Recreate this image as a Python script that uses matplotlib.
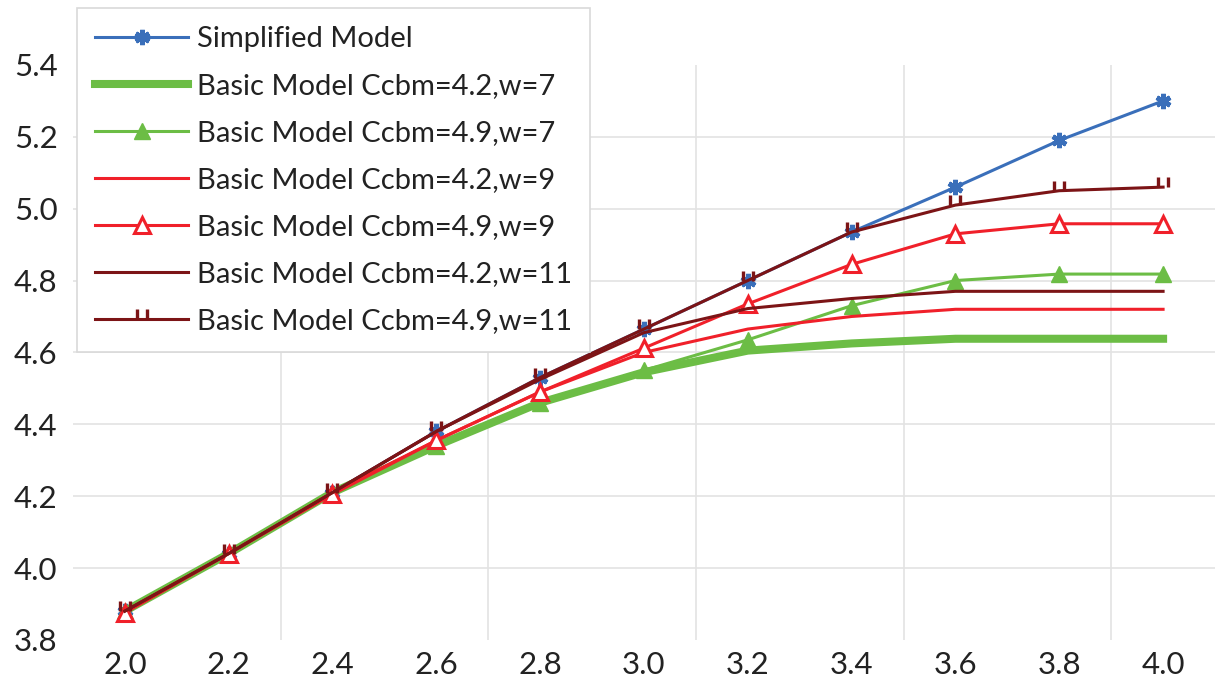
import matplotlib
matplotlib.use('Agg')
import matplotlib.pyplot as plt
from matplotlib.path import Path

plt.rcParams['font.family'] = ['Lato', 'DejaVu Sans']

x = [2.0, 2.2, 2.4, 2.6, 2.8, 3.0, 3.2, 3.4, 3.6, 3.8, 4.0]

simplified = [3.88, 4.04, 4.21, 4.38, 4.53, 4.665, 4.80, 4.935, 5.06, 5.19, 5.30]
c42_w7 = [3.88, 4.04, 4.21, 4.34, 4.46, 4.545, 4.605, 4.625, 4.638, 4.638, 4.638]
c49_w7 = [3.88, 4.04, 4.21, 4.34, 4.46, 4.55, 4.635, 4.73, 4.80, 4.818, 4.818]
c42_w9 = [3.88, 4.04, 4.21, 4.355, 4.49, 4.60, 4.665, 4.70, 4.72, 4.72, 4.72]
c49_w9 = [3.875, 4.04, 4.205, 4.355, 4.49, 4.612, 4.735, 4.845, 4.93, 4.958, 4.958]
c42_w11 = [3.88, 4.04, 4.21, 4.38, 4.525, 4.655, 4.722, 4.75, 4.77, 4.77, 4.77]
c49_w11 = [3.88, 4.04, 4.21, 4.38, 4.53, 4.665, 4.80, 4.935, 5.01, 5.05, 5.06]

labels = ['Simplified Model',
          'Basic Model Ccbm=4.2,w=7',
          'Basic Model Ccbm=4.9,w=7',
          'Basic Model Ccbm=4.2,w=9',
          'Basic Model Ccbm=4.9,w=9',
          'Basic Model Ccbm=4.2,w=11',
          'Basic Model Ccbm=4.9,w=11']

xticks = [2.0, 2.2, 2.4, 2.6, 2.8, 3.0, 3.2, 3.4, 3.6, 3.8, 4.0]
yticks = [3.8, 4.0, 4.2, 4.4, 4.6, 4.8, 5.0, 5.2, 5.4]
xgrid = [2.3, 2.7, 3.1, 3.5, 3.9]
ygrid = [4.0, 4.2, 4.4, 4.6, 4.8, 5.0, 5.2]

blue = '#3a6fba'
green = '#6cbd45'
red = '#f0202a'
darkred = '#7c1416'

# two short upward ticks, like the Excel marker
ticks_marker = Path([(-0.5, 0), (-0.5, 1), (0.5, 0), (0.5, 1), (-0.5, -1)],
                    [Path.MOVETO, Path.LINETO, Path.MOVETO, Path.LINETO, Path.MOVETO])

fig = plt.figure(figsize=(12.15, 6.91), dpi=100)
ax = fig.add_axes([0.060, 0.074, 0.94, 0.832])

for gx in xgrid:
    ax.axvline(gx, color='#e3e3e3', lw=1.2, zorder=0)
for gy in ygrid:
    ax.axhline(gy, color='#e3e3e3', lw=1.2, zorder=0)

ax.plot(x, simplified, color=blue, lw=2.2, marker=(6, 2, 0), ms=11, mew=3.4,
        label=labels[0])
ax.plot(x, c42_w7, color=green, lw=5.8, label=labels[1])
ax.plot(x, c49_w7, color=green, lw=2.2, marker='^', ms=12, label=labels[2])
ax.plot(x, c42_w9, color=red, lw=2.2, label=labels[3])
ax.plot(x, c49_w9, color=red, lw=2.2, marker='^', ms=11, mfc='white',
        mec=red, mew=2.2, label=labels[4])
ax.plot(x, c42_w11, color=darkred, lw=2.2, label=labels[5])
ax.plot(x, c49_w11, color=darkred, lw=2.2, marker=ticks_marker, ms=14,
        mfc='none', mec=darkred, mew=2.4, label=labels[6])

ax.set_xlim(1.9, 4.1)
ax.set_ylim(3.8, 5.4)
ax.set_xticks(xticks)
ax.set_xticklabels(['%.1f' % v for v in xticks])
ax.set_yticks(yticks)
ax.set_yticklabels(['%.1f' % v for v in yticks])
ax.tick_params(axis='both', length=0, labelsize=22.5, colors='#222222')
ax.tick_params(axis='y', pad=11)
ax.tick_params(axis='x', pad=8)
for s in ax.spines.values():
    s.set_visible(False)

leg = ax.legend(loc='upper left', bbox_to_anchor=(77 / 1215, 1 - 8 / 691),
                bbox_transform=fig.transFigure, fontsize=21,
                frameon=True, fancybox=False, edgecolor='#d9d9d9',
                framealpha=1, borderaxespad=0, borderpad=0.62,
                handlelength=3.2, handletextpad=0.3, labelspacing=0.72)
leg.get_frame().set_linewidth(1.2)
for t in leg.get_texts():
    t.set_color('#222222')

fig.savefig('out.png', dpi=100)
